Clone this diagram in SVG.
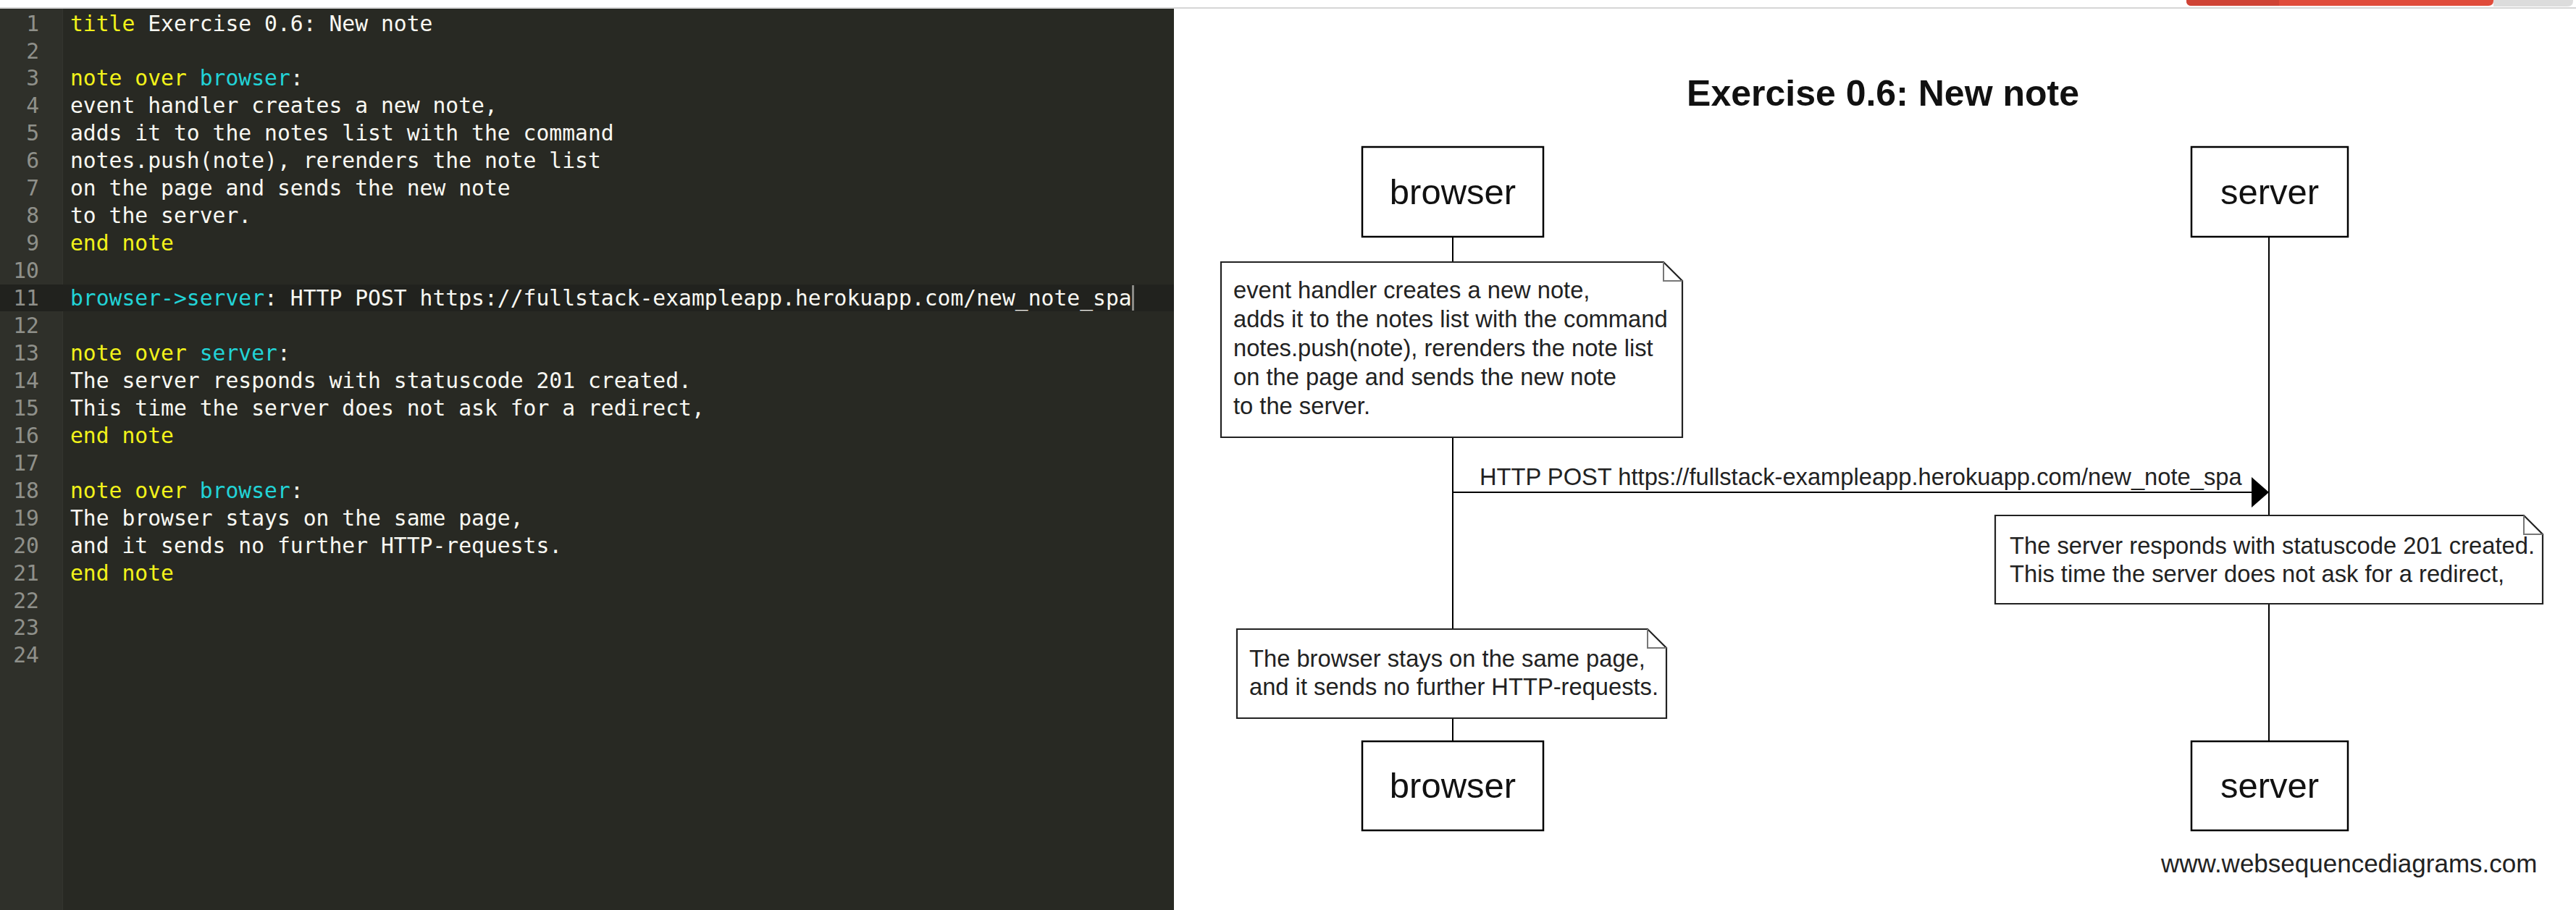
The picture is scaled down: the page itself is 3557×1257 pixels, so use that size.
<svg xmlns="http://www.w3.org/2000/svg" width="3557" height="1257" viewBox="0 0 3557 1257">
<style>
.code{font-family:"DejaVu Sans Mono","Liberation Mono",monospace;font-size:29.7px;fill:#f8f8f2;white-space:pre}
.ln{font-family:"DejaVu Sans Mono","Liberation Mono",monospace;font-size:29.7px;fill:#8f908a;text-anchor:end}
.kw{fill:#f2f21a}
.cy{fill:#22d3d6}
.box{fill:#fff;stroke:#000;stroke-width:2.5}
.note{fill:#fff;stroke:#222;stroke-width:2.2}
.fold{fill:none;stroke:#777;stroke-width:2}
.life{stroke:#000;stroke-width:2;fill:none}
.pt{font-family:"Liberation Sans",Arial,sans-serif;font-size:49px;fill:#111;text-anchor:middle}
.nt{font-family:"Liberation Sans",Arial,sans-serif;font-size:32.7px;fill:#222}
</style>
<defs>
<marker id="ah" markerUnits="userSpaceOnUse" markerWidth="26" markerHeight="42" refX="24" refY="21" orient="auto">
<polygon points="0,0 24,21 0,42" fill="#000"/>
</marker>
</defs>
<rect x="0" y="0" width="3557" height="1257" fill="#fff"/>
<g id="topbar">
<line x1="0" y1="11" x2="3557" y2="11" stroke="#d6d6d6" stroke-width="2"/>
<path d="M3019,0 H3443 V1 Q3443,8 3436,8 H3026 Q3019,8 3019,1 Z" fill="#e04c3b"/>
<path d="M3019,0 H3147 V8 H3026 Q3019,8 3019,1 Z" fill="#cf4335"/>
<path d="M3443,0 H3553 V1 Q3553,9 3545,9 H3443 Z" fill="#dcdcdc"/>
</g>
<g id="editor">
<rect x="0" y="12" width="1621" height="1245" fill="#282923"/>
<rect x="0" y="12" width="86" height="1245" fill="#2f302a"/>
<line x1="86.5" y1="12" x2="86.5" y2="1257" stroke="#34352f" stroke-width="1"/>
<rect x="0" y="393" width="1621" height="37" fill="#21221e"/>
<rect x="1563" y="394" width="3" height="35" fill="#8a8a86"/>
<g id="linenumbers">
<text class="ln" x="54" y="42.5">1</text>
<text class="ln" x="54" y="80.5">2</text>
<text class="ln" x="54" y="118.4">3</text>
<text class="ln" x="54" y="156.4">4</text>
<text class="ln" x="54" y="194.3">5</text>
<text class="ln" x="54" y="232.3">6</text>
<text class="ln" x="54" y="270.2">7</text>
<text class="ln" x="54" y="308.2">8</text>
<text class="ln" x="54" y="346.1">9</text>
<text class="ln" x="54" y="384.1">10</text>
<text class="ln" x="54" y="422" fill="#c8c8c4">11</text>
<text class="ln" x="54" y="460">12</text>
<text class="ln" x="54" y="497.9">13</text>
<text class="ln" x="54" y="535.9">14</text>
<text class="ln" x="54" y="573.8">15</text>
<text class="ln" x="54" y="611.8">16</text>
<text class="ln" x="54" y="649.7">17</text>
<text class="ln" x="54" y="687.7">18</text>
<text class="ln" x="54" y="725.6">19</text>
<text class="ln" x="54" y="763.6">20</text>
<text class="ln" x="54" y="801.5">21</text>
<text class="ln" x="54" y="839.5">22</text>
<text class="ln" x="54" y="877.4">23</text>
<text class="ln" x="54" y="915.4">24</text>
</g>
<g id="code">
<text class="code" x="97" y="42.5"><tspan class="kw">title</tspan> Exercise 0.6: New note</text>
<text class="code" x="97" y="118.4"><tspan class="kw">note over</tspan> <tspan class="cy">browser</tspan>:</text>
<text class="code" x="97" y="156.4">event handler creates a new note,</text>
<text class="code" x="97" y="194.3">adds it to the notes list with the command</text>
<text class="code" x="97" y="232.3">notes.push(note), rerenders the note list</text>
<text class="code" x="97" y="270.2">on the page and sends the new note</text>
<text class="code" x="97" y="308.2">to the server.</text>
<text class="code" x="97" y="346.1"><tspan class="kw">end note</tspan></text>
<text class="code" x="97" y="422"><tspan class="cy">browser-&gt;server</tspan>: HTTP POST https://fullstack-exampleapp.herokuapp.com/new_note_spa</text>
<text class="code" x="97" y="497.9"><tspan class="kw">note over</tspan> <tspan class="cy">server</tspan>:</text>
<text class="code" x="97" y="535.9">The server responds with statuscode 201 created.</text>
<text class="code" x="97" y="573.8">This time the server does not ask for a redirect,</text>
<text class="code" x="97" y="611.8"><tspan class="kw">end note</tspan></text>
<text class="code" x="97" y="687.7"><tspan class="kw">note over</tspan> <tspan class="cy">browser</tspan>:</text>
<text class="code" x="97" y="725.6">The browser stays on the same page,</text>
<text class="code" x="97" y="763.6">and it sends no further HTTP-requests.</text>
<text class="code" x="97" y="801.5"><tspan class="kw">end note</tspan></text>
</g>
</g>
<g id="diagram">
<text id="title" x="2600" y="146" font-family="Liberation Sans, Arial, sans-serif" font-size="50" font-weight="bold" text-anchor="middle" fill="#111">Exercise 0.6: New note</text>
<g id="lifelines">
<line class="life" x1="2006" y1="327" x2="2006" y2="1024"/>
<line class="life" x1="3133" y1="327" x2="3133" y2="1024"/>
</g>
<g id="browser-top">
<rect class="box" x="1881" y="203" width="250" height="124"/>
<text class="pt" x="2006" y="282">browser</text>
</g>
<g id="server-top">
<rect class="box" x="3026" y="203" width="216" height="124"/>
<text class="pt" x="3134" y="282">server</text>
</g>
<g id="note-browser-1">
<path class="note" d="M1686,362 H2297 L2323,388 V604 H1686 Z"/>
<path class="fold" d="M2297,362 V388 H2323"/>
<text class="nt" x="1703" y="412">event handler creates a new note,</text>
<text class="nt" x="1703" y="452">adds it to the notes list with the command</text>
<text class="nt" x="1703" y="492">notes.push(note), rerenders the note list</text>
<text class="nt" x="1703" y="532">on the page and sends the new note</text>
<text class="nt" x="1703" y="572">to the server.</text>
</g>
<g id="connectors">
<line x1="2006" y1="680" x2="3133" y2="680" stroke="#000" stroke-width="2" marker-end="url(#ah)"/>
<text class="nt" x="2043" y="670">HTTP POST https://fullstack-exampleapp.herokuapp.com/new_note_spa</text>
</g>
<g id="note-server">
<path class="note" d="M2755,712 H3485 L3511,738 V834 H2755 Z"/>
<path class="fold" d="M3485,712 V738 H3511"/>
<text class="nt" x="2775" y="765">The server responds with statuscode 201 created.</text>
<text class="nt" x="2775" y="804">This time the server does not ask for a redirect,</text>
</g>
<g id="note-browser-2">
<path class="note" d="M1708,869 H2275 L2301,895 V992 H1708 Z"/>
<path class="fold" d="M2275,869 V895 H2301"/>
<text class="nt" x="1725" y="921">The browser stays on the same page,</text>
<text class="nt" x="1725" y="960">and it sends no further HTTP-requests.</text>
</g>
<g id="browser-bottom">
<rect class="box" x="1881" y="1024" width="250" height="123"/>
<text class="pt" x="2006" y="1102">browser</text>
</g>
<g id="server-bottom">
<rect class="box" x="3026" y="1024" width="216" height="123"/>
<text class="pt" x="3134" y="1102">server</text>
</g>
<text id="watermark" x="2984" y="1205" font-family="Liberation Sans, Arial, sans-serif" font-size="35" fill="#222">www.websequencediagrams.com</text>
</g>
</svg>
